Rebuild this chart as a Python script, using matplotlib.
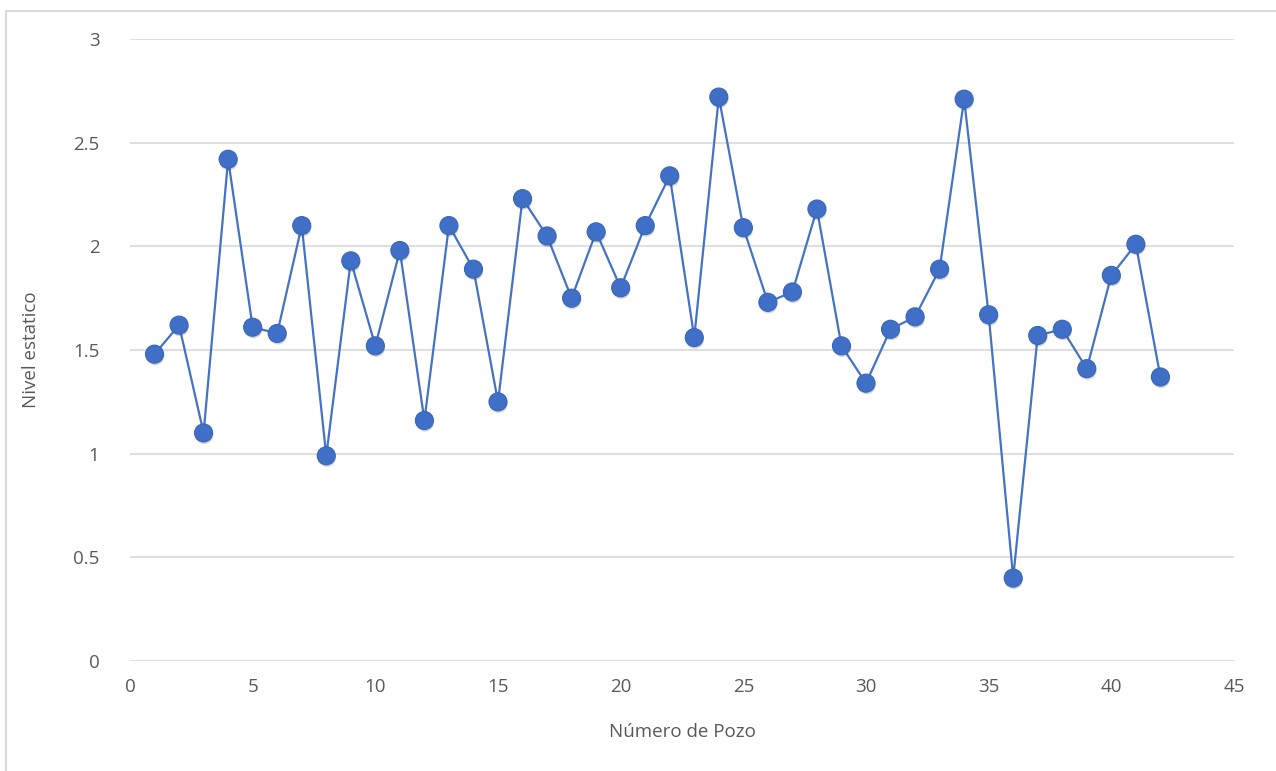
import matplotlib.pyplot as plt
import matplotlib.patheffects as pe
from matplotlib.patches import Rectangle

# Numero de pozo y nivel estatico
pozo = list(range(1, 43))
nivel = [1.48, 1.62, 1.10, 2.42, 1.61, 1.58, 2.10, 0.99, 1.93, 1.52,
         1.98, 1.16, 2.10, 1.89, 1.25, 2.23, 2.05, 1.75, 2.07, 1.80,
         2.10, 2.34, 1.56, 2.72, 2.09, 1.73, 1.78, 2.18, 1.52, 1.34,
         1.60, 1.66, 1.89, 2.71, 1.67, 0.40, 1.57, 1.60, 1.41, 1.86,
         2.01, 1.37]

plt.rcParams['font.family'] = ['Open Sans', 'DejaVu Sans']
txt = '#595959'

fig = plt.figure(figsize=(12.76, 7.71), dpi=100)
ax = fig.add_axes([130 / 1276, 1 - 661 / 771, 1104 / 1276, 622 / 771])

ax.plot(pozo, nivel, color='#4472C4', lw=1.6, zorder=3)
ax.plot(pozo, nivel, ls='none', marker='o', ms=13, mfc='#3F6FC6',
        mec='#3A66B8', mew=0.8, zorder=4,
        path_effects=[pe.SimplePatchShadow(offset=(0.5, -1.5), alpha=0.18), pe.Normal()])

ax.set_xlim(0, 45)
ax.set_ylim(0, 3)
ax.set_xticks(range(0, 46, 5))
ax.set_yticks([0, 0.5, 1, 1.5, 2, 2.5, 3])
ax.set_yticklabels(['0', '0.5', '1', '1.5', '2', '2.5', '3'])
ax.grid(axis='y', color='#D9D9D9', lw=1.2)
ax.set_axisbelow(True)
for s in ax.spines.values():
    s.set_visible(False)
ax.tick_params(length=0, labelsize=13.5, labelcolor=txt, pad=12)
ax.tick_params(axis='y', pad=22)
ax.set_xlabel('Número de Pozo', fontsize=13.5, color=txt, labelpad=20)
ax.set_ylabel('Nivel estatico', fontsize=13.5, color=txt, labelpad=24)

# marco exterior
fig.patches.append(Rectangle((6 / 1276, -0.01), 1.5, 1 - 11 / 771 + 0.01,
                             transform=fig.transFigure, fill=False,
                             ec='#D9D9D9', lw=1.5))

fig.savefig('out.png', dpi=100)
